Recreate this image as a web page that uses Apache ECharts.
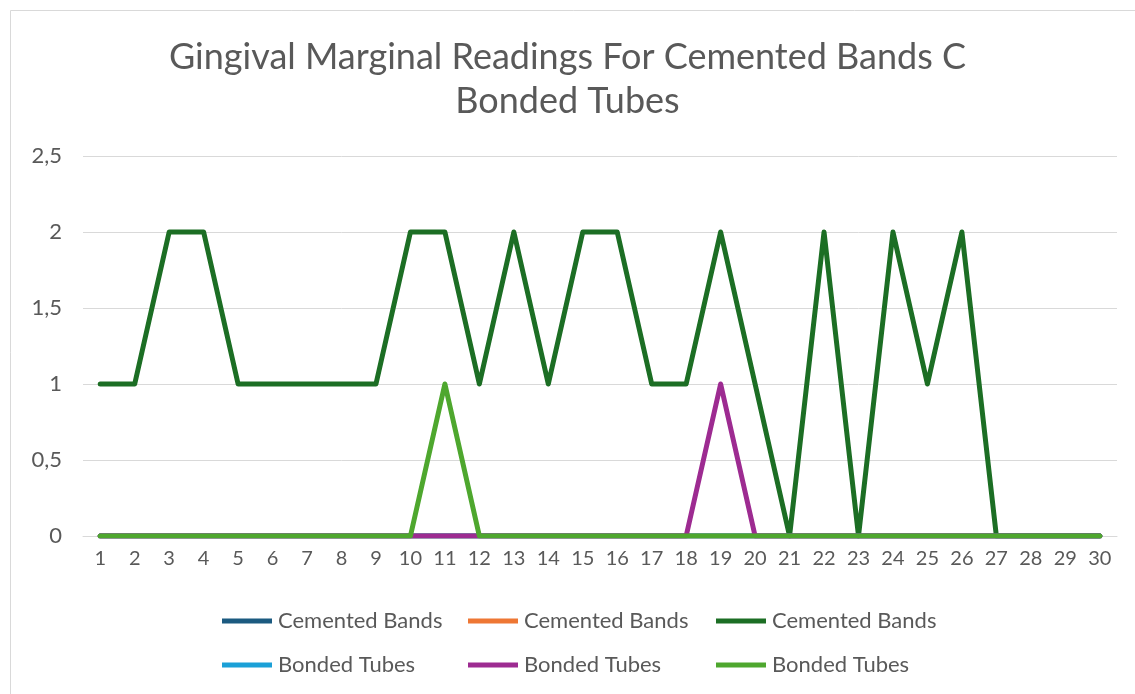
<!DOCTYPE html>
<html>
<head>
<meta charset="utf-8">
<script src="https://cdn.jsdelivr.net/npm/echarts@6/dist/echarts.min.js"></script>
<style>
  html, body { margin: 0; padding: 0; background: #fff; }
  #chart { width: 1135px; height: 694px; }
</style>
</head>
<body>
<div id="chart"></div>
<script>
var days = [];
for (var i = 1; i <= 30; i++) days.push(String(i));

var cementedA = [0,0,0,0,0,0,0,0,0,0,0,0,0,0,0,0,0,0,0,0,0,0,0,0,0,0,0,0,0,0];
var cementedB = [0,0,0,0,0,0,0,0,0,0,0,0,0,0,0,0,0,0,0,0,0,0,0,0,0,0,0,0,0,0];
var cementedC = [1,1,2,2,1,1,1,1,1,2,2,1,2,1,2,2,1,1,2,1,0,2,0,2,1,2,0,0,0,0];
var bondedA   = [0,0,0,0,0,0,0,0,0,0,0,0,0,0,0,0,0,0,0,0,0,0,0,0,0,0,0,0,0,0];
var bondedB   = [0,0,0,0,0,0,0,0,0,0,0,0,0,0,0,0,0,0,1,0,0,0,0,0,0,0,0,0,0,0];
var bondedC   = [0,0,0,0,0,0,0,0,0,0,1,0,0,0,0,0,0,0,0,0,0,0,0,0,0,0,0,0,0,0];

var seriesKeys   = ['cb1', 'cb2', 'cb3', 'bt1', 'bt2', 'bt3'];
var seriesLabels = ['Cemented Bands', 'Cemented Bands', 'Cemented Bands',
                    'Bonded Tubes', 'Bonded Tubes', 'Bonded Tubes'];
var seriesData   = [cementedA, cementedB, cementedC, bondedA, bondedB, bondedC];
var colors = ['#1b5a80', '#ee7734', '#1c6e24', '#1ba0d7', '#9d2b91', '#4ea72e'];

var font = 'Lato, "Open Sans", sans-serif';
var textColor = '#595959';

var chart = echarts.init(document.getElementById('chart'));

var series = seriesKeys.map(function (k, idx) {
    return {
        name: k,
        type: 'line',
        data: seriesData[idx],
        symbol: 'none',
        lineStyle: { width: 5, color: colors[idx], join: 'round', cap: 'round' },
        itemStyle: { color: colors[idx] }
    };
});

// one legend per item, laid out as 3 columns x 2 rows
var legendCols = [222, 468, 716];
var legendRows = [610, 654];
var legends = seriesKeys.map(function (k, idx) {
    return {
        data: [k],
        left: legendCols[idx % 3],
        top: legendRows[Math.floor(idx / 3)],
        padding: 0,
        itemWidth: 50,
        itemHeight: 5,
        icon: 'rect',
        formatter: function (name) {
            return seriesLabels[seriesKeys.indexOf(name)];
        },
        textStyle: {
            fontFamily: font,
            fontSize: 22,
            color: textColor,
            padding: [0, 0, 0, 1]
        }
    };
});

var option = {
    backgroundColor: '#fff',
    animation: false,
    color: colors,
    title: {
        text: 'Gingival Marginal Readings For Cemented Bands C\nBonded Tubes',
        left: 'center',
        top: 30,
        textStyle: {
            fontFamily: font,
            fontSize: 36,
            fontWeight: 'normal',
            color: textColor,
            lineHeight: 44
        }
    },
    graphic: [{
        type: 'rect',
        shape: { x: 10.5, y: 10.5, width: 1135, height: 700 },
        style: { fill: 'none', stroke: '#d9d9d9', lineWidth: 1 },
        silent: true
    }],
    grid: {
        left: 83,
        right: 18,
        top: 156,
        bottom: 158
    },
    legend: legends,
    xAxis: {
        type: 'category',
        data: days,
        boundaryGap: true,
        axisLine: { lineStyle: { color: '#d9d9d9', width: 1 } },
        axisTick: { show: false },
        axisLabel: {
            fontFamily: font,
            fontSize: 20,
            color: textColor,
            margin: 13,
            interval: 0
        }
    },
    yAxis: {
        type: 'value',
        min: 0,
        max: 2.5,
        interval: 0.5,
        axisLine: { show: false },
        axisTick: { show: false },
        splitLine: { lineStyle: { color: '#d9d9d9', width: 1 } },
        axisLabel: {
            fontFamily: font,
            fontSize: 22,
            color: textColor,
            margin: 21,
            formatter: function (v) { return String(v).replace('.', ','); }
        }
    },
    series: series
};

chart.setOption(option);
</script>
</body>
</html>
